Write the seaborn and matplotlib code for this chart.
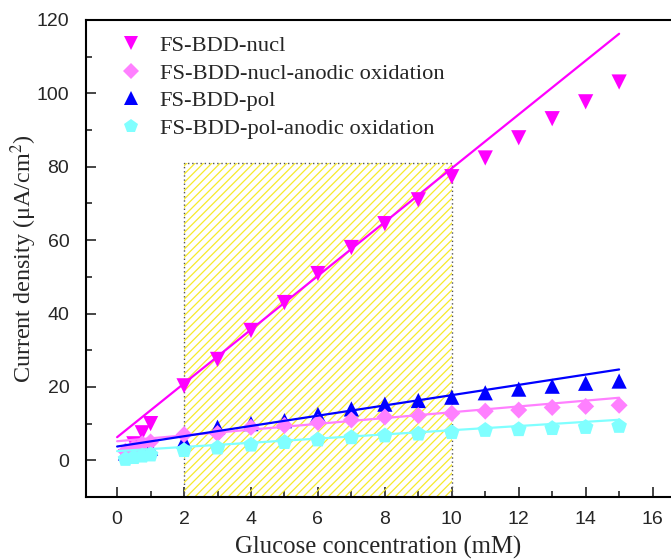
import numpy as np
import pandas as pd
import matplotlib
matplotlib.use("Agg")
import matplotlib.pyplot as plt
import seaborn as sns
from matplotlib.lines import Line2D

# ---- data ----
conc = [0.25, 0.5, 0.75, 1, 2, 3, 4, 5, 6, 7, 8, 9, 10, 11, 12, 13, 14, 15]
nucl = [1.0, 4.5, 7.5, 10.0, 20.3, 27.5, 35.4, 43.0, 50.9, 58.0, 64.5, 71.0, 77.3, 82.4, 87.9, 93.1, 97.7, 103.1]
nucl_ao = [2.5, 3.5, 4.5, 5.0, 7.0, 7.3, 9.0, 9.5, 10.3, 11.0, 11.8, 12.2, 12.8, 13.4, 13.7, 14.4, 14.7, 15.0]
pol = [2.0, 2.5, 3.0, 3.3, 5.3, 9.0, 10.0, 10.8, 12.5, 14.0, 15.3, 16.3, 17.2, 18.4, 19.4, 20.2, 21.0, 21.6]
pol_ao = [0.3, 0.8, 1.2, 1.5, 2.7, 3.4, 4.2, 4.9, 5.6, 6.2, 6.7, 7.2, 7.6, 8.2, 8.4, 8.7, 9.0, 9.3]

series_names = ["FS-BDD-nucl", "FS-BDD-nucl-anodic oxidation", "FS-BDD-pol", "FS-BDD-pol-anodic oxidation"]
fit_slope = [7.33, 0.79, 1.40, 0.57]
fit_intercept = [6.3, 5.2, 3.76, 2.5]
fit_range = [0, 15]

region_x = [2, 10]
region_top = 81

xticks = list(range(0, 17, 2))
yticks = list(range(0, 121, 20))

# ---- style ----
sns.set_theme(style="ticks")
plt.rcParams["font.family"] = ["Liberation Sans", "DejaVu Sans"]
plt.rcParams["mathtext.fontset"] = "stix"
plt.rcParams["hatch.linewidth"] = 0.9

colors = {series_names[0]: "#ff00ff", series_names[1]: "#ff80ff",
          series_names[2]: "#0000ff", series_names[3]: "#80ffff"}
markers = {series_names[0]: "v", series_names[1]: "D",
           series_names[2]: "^", series_names[3]: "p"}
sizes = {series_names[0]: 120, series_names[1]: 75,
         series_names[2]: 120, series_names[3]: 140}

values = [nucl, nucl_ao, pol, pol_ao]
df = pd.concat([pd.DataFrame({"x": conc, "y": v, "series": n})
                for n, v in zip(series_names, values)], ignore_index=True)

fig = plt.figure(figsize=(6.71, 5.59), dpi=100)
ax = fig.add_axes([86/671, 1-497/559, (671-86)/671, (497-20)/559])

# hatched region
ax.fill_between(region_x, -10, region_top, facecolor="none", edgecolor="#f7ea2a",
                hatch="////", linewidth=0, zorder=1)
ax.plot([region_x[0], region_x[0], region_x[1], region_x[1]],
        [-10, region_top, region_top, -10], color="#555555", linestyle=(0, (1, 2)),
        linewidth=1.0, zorder=1.5)

# markers
draw_order = [series_names[2], series_names[0], series_names[1], series_names[3]]
for i, n in enumerate(draw_order):
    sub = df[df["series"] == n]
    sns.scatterplot(data=sub, x="x", y="y", marker=markers[n], color=colors[n],
                    s=sizes[n], edgecolor="none", linewidth=0, ax=ax,
                    zorder=3 + i, legend=False)

# fit lines
xl = np.array(fit_range, dtype=float)
for n, a, b in zip(series_names, fit_slope, fit_intercept):
    fit_df = pd.DataFrame({"x": xl, "y": a * xl + b})
    sns.lineplot(data=fit_df, x="x", y="y", color=colors[n], linewidth=1.6,
                 ax=ax, zorder=8, legend=False)

# legend
leg_sizes = {series_names[0]: 10, series_names[1]: 8, series_names[2]: 10, series_names[3]: 10.5}
hs = [Line2D([], [], linestyle="none", marker=markers[n], color=colors[n],
             markeredgewidth=0, markersize=leg_sizes[n]) for n in series_names]
ax.legend(hs, series_names, loc="upper left", frameon=False,
          prop={"family": "Liberation Serif", "size": 16.2},
          bbox_to_anchor=(0.02, 1.01), handletextpad=0.65, labelspacing=0.3,
          handlelength=1.2)

ax.set_xlim(-0.93, 16.55)
ax.set_ylim(-10, 120)
ax.set_xticks(xticks)
ax.set_yticks(yticks)
ax.set_xticks(np.arange(1, 17, 2), minor=True)
ax.set_yticks(np.arange(-10, 121, 20), minor=True)
ax.tick_params(which="major", direction="in", length=7, width=1.2, labelsize=14,
               top=False, right=False)
ax.tick_params(axis="x", which="major", pad=10)
ax.tick_params(axis="y", which="major", pad=12)
ax.tick_params(which="minor", direction="in", length=4, width=1.2, top=False, right=False)
for s in ["left", "bottom", "top"]:
    ax.spines[s].set_linewidth(1.5)
    ax.spines[s].set_color("black")
ax.spines["right"].set_visible(False)

ax.set_xlabel("Glucose concentration (mM)", family="Liberation Serif", fontsize=17.8, labelpad=6)
ax.set_ylabel("Current density (μA/cm$^{2}$)", family="Liberation Serif", fontsize=17.4)
ax.yaxis.set_label_coords(-0.081, 0.5)

fig.savefig("out.png", dpi=100)
